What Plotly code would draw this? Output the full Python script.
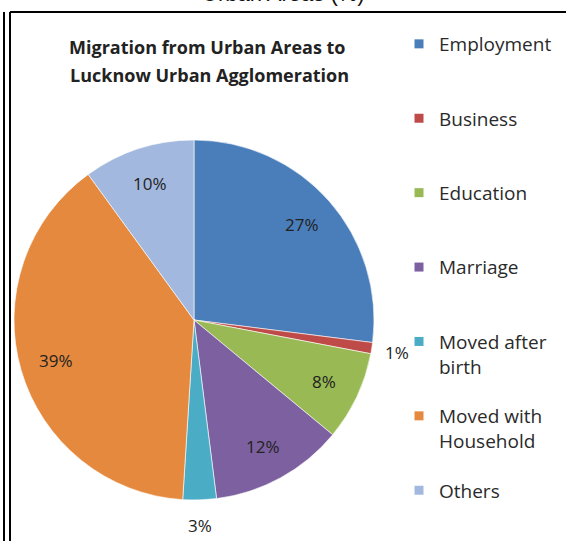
import math
import plotly.graph_objects as go

# Reasons for migration from urban areas to Lucknow Urban Agglomeration (%)
reasons = ["Employment", "Business", "Education", "Marriage",
           "Moved after birth", "Moved with Household", "Others"]
legend_names = ["Employment", "Business", "Education", "Marriage",
                "Moved after<br>birth", "Moved with<br>Household", "Others"]
shares = [27, 1, 8, 12, 3, 39, 10]
colors = ["#4A7EBB", "#BE4B48", "#98B954", "#7D60A0",
          "#4AACC5", "#E5893F", "#A3B8DE"]
label_outside = [False, True, False, False, True, False, False]

W, H = 566, 541
cx, cy, r = 194, 320, 180  # pie centre and radius, px from top-left

fig = go.Figure()
fig.add_trace(go.Pie(
    labels=reasons,
    values=shares,
    sort=False,
    direction="clockwise",
    rotation=0,
    marker=dict(colors=colors, line=dict(color="rgba(255,255,255,0.6)", width=1)),
    textinfo="none",
    showlegend=False,
    hoverinfo="label+percent",
    domain=dict(x=[(cx - r) / W, (cx + r) / W],
                y=[(H - cy - r) / H, (H - cy + r) / H]),
))

# percentage labels placed at the middle angle of each slice
total = sum(shares)
annotations = []
cum = 0
for val, outside in zip(shares, label_outside):
    mid = (cum + val / 2) / total * 2 * math.pi  # clockwise from 12 o'clock
    cum += val
    rr = r * (1.14 if outside else 0.8)
    px = cx + rr * math.sin(mid)
    py = cy - rr * math.cos(mid)
    annotations.append(dict(
        text=f"{val}%", xref="paper", yref="paper",
        x=px / W, y=1 - py / H, xanchor="center", yanchor="middle",
        showarrow=False,
        font=dict(family="Open Sans", size=17, color="#222222")))

# legend entries (one per reason, same colours as the slices)
for name, col in zip(legend_names, colors):
    padded = name if "<br>" in name else name + "<br> "
    fig.add_trace(go.Scatter(
        x=[None], y=[None], mode="markers", name=padded,
        marker=dict(symbol="square", size=9, color=col),
        legendgroup=name, showlegend=True, hoverinfo="skip",
    ))

title_font = dict(family="Open Sans", size=18, color="#222222")
annotations += [
    dict(text="<b>Migration from Urban Areas to</b>",
         xref="paper", yref="paper", x=207 / W, y=1 - 47 / H,
         xanchor="center", yanchor="middle", showarrow=False, font=title_font),
    dict(text="<b>Lucknow Urban Agglomeration</b>",
         xref="paper", yref="paper", x=209 / W, y=1 - 75 / H,
         xanchor="center", yanchor="middle", showarrow=False, font=title_font),
    dict(text="Urban Areas (%)",
         xref="paper", yref="paper", x=283 / W, y=1 + 7 / H,
         xanchor="center", yanchor="middle", showarrow=False,
         font=dict(family="Arial", size=22, color="#111111")),
]

fig.update_layout(
    width=W, height=H,
    margin=dict(l=0, r=0, t=0, b=0),
    paper_bgcolor="white", plot_bgcolor="white",
    xaxis=dict(visible=False), yaxis=dict(visible=False),
    legend=dict(
        x=399 / W, xanchor="left", y=1 - 25 / H, yanchor="top",
        font=dict(family="Open Sans", size=19, color="#2a2a2a"),
        tracegroupgap=22, valign="top", bgcolor="rgba(0,0,0,0)",
    ),
    annotations=annotations,
    shapes=[
        dict(type="line", xref="paper", yref="paper", x0=4 / W, x1=4 / W,
             y0=0, y1=1 - 12 / H, line=dict(color="black", width=2)),
        dict(type="line", xref="paper", yref="paper", x0=10 / W, x1=10 / W,
             y0=0, y1=1 - 12 / H, line=dict(color="black", width=2)),
        dict(type="line", xref="paper", yref="paper", x0=10 / W, x1=1,
             y0=1 - 12 / H, y1=1 - 12 / H, line=dict(color="black", width=2)),
    ],
)

fig.write_html("out.html")
